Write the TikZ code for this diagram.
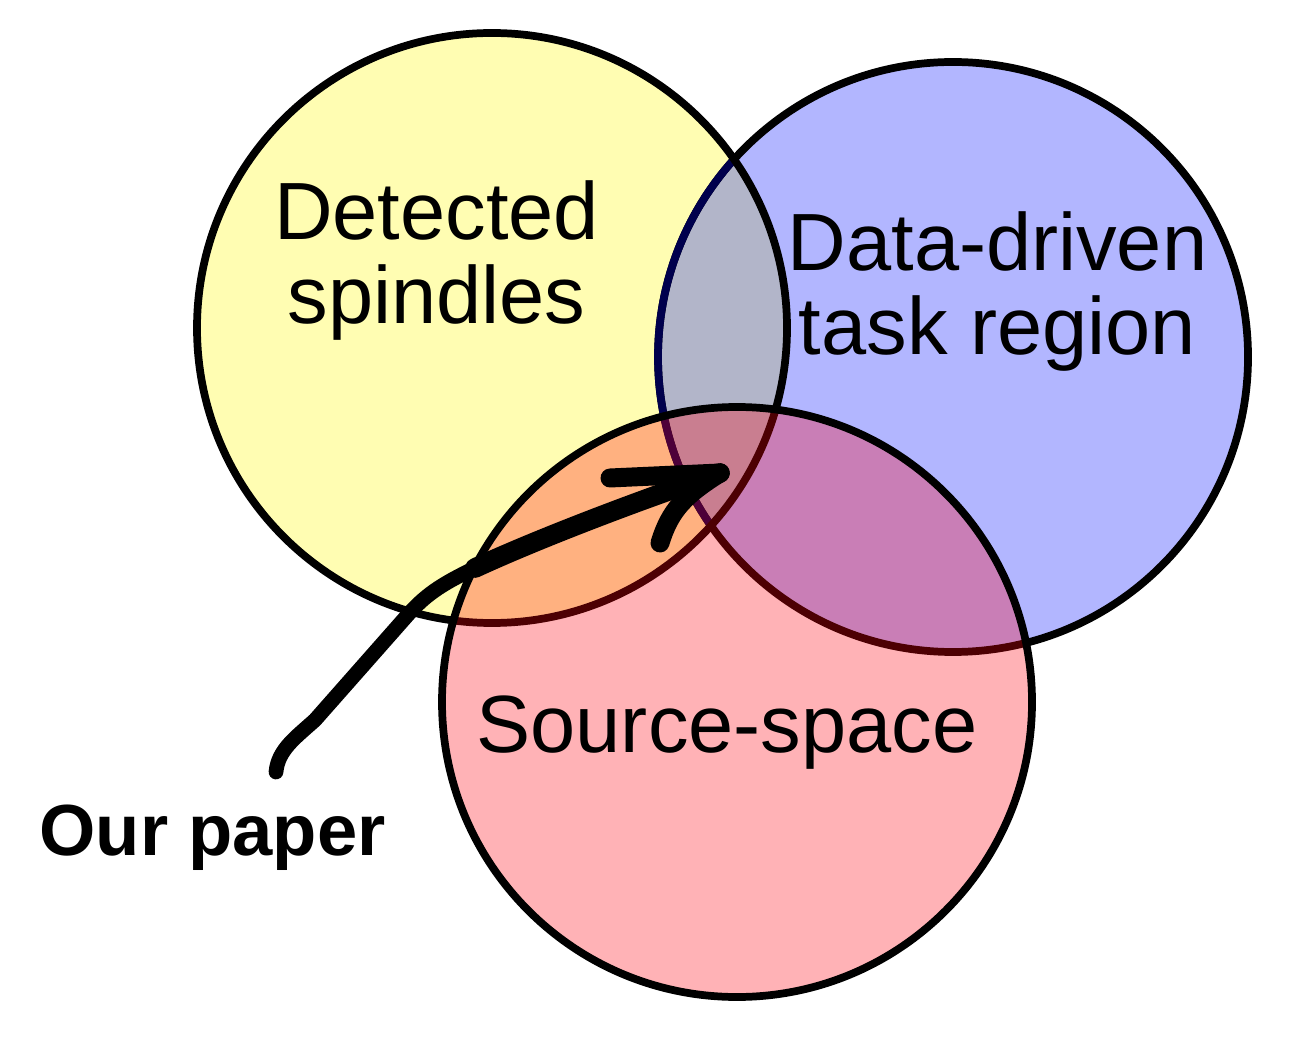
\documentclass[tikz,border=0pt]{standalone}
\usepackage{fontspec}
\setmainfont{Liberation Sans}
\usetikzlibrary{calc}
\definecolor{spinfill}{RGB}{255,250,0}
\definecolor{taskfill}{RGB}{0,12,255}
\definecolor{srcfill}{RGB}{255,0,12}
\definecolor{taskedge}{RGB}{0,0,77}
\tikzset{region/.style={fill opacity=0.3},
  rim/.style={draw=black, line width=2.2pt},
  setname/.style={font=\fontsize{23.1}{23.9}\selectfont, align=center, inner sep=0pt},
  stroke/.style={draw=black, line cap=round, line join=round}}

\begin{document}
\begin{tikzpicture}
	\useasboundingbox (0,0) rectangle (13.06,-10.46);
	\coordinate (spin) at (4.92,-3.28);
	\coordinate (task) at (9.53,-3.57);
	\coordinate (src) at (7.37,-7.02);
	
	% circles
	\fill[region, fill=spinfill] (spin) circle (2.95);
	\fill[region, fill=taskfill] (task) circle (2.95);
	\draw[rim] (task) circle (2.95);
	\begin{scope}
		\clip (spin) circle (2.95);
		\draw[rim, draw=taskedge] (task) circle (2.95);
	\end{scope}
	\draw[rim] (spin) circle (2.95);
	\fill[region, fill=srcfill] (src) circle (2.95);
	\draw[rim] (src) circle (2.95);
	
	% texts
	\node[setname, anchor=north] (detected) at (4.365,-1.80) {Detected\\spindles};
	\node[setname, anchor=north] (datadriven) at (9.975,-2.11) {Data-driven\\task region};
	\node[setname, anchor=base] (source) at (7.27,-7.52) {Source-space};
	\node[font=\fontsize{20.6}{24}\selectfont\bfseries, anchor=base, inner sep=0pt] (paper) at (2.125,-8.55) {Our paper};
	
	% arrow
	\coordinate (tail) at (2.76,-7.72);
	\coordinate (bend) at (4.75,-5.68);
	\coordinate (tip) at (7.2,-4.73);
	\coordinate (barb1) at (6.1,-4.78);
	\coordinate (barb2) at (6.6,-5.43);
	\draw[stroke, line width=4.2pt] (tail) .. controls (2.78,-7.5) and (2.95,-7.38) .. (3.15,-7.2)
		-- (4.05,-6.18) .. controls (4.25,-5.95) and (4.4,-5.85) .. (bend);
	\draw[stroke, line width=5.6pt] (bend) .. controls (5.4,-5.38) and (6.4,-5.0) .. (tip);
	\draw[stroke, line width=5.4pt] (barb1) -- (tip);
	\draw[stroke, line width=5.4pt] (tip) .. controls (6.85,-4.95) and (6.7,-5.1) .. (barb2);
\end{tikzpicture}
\end{document}
